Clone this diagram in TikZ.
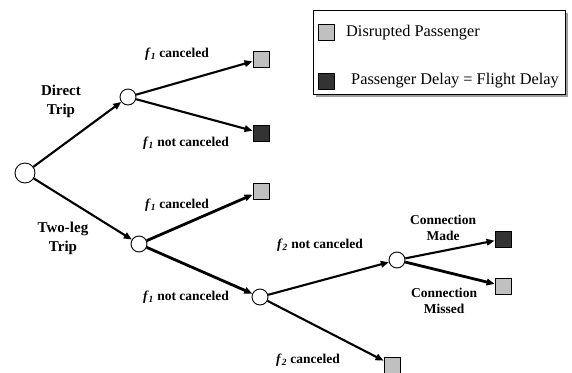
\documentclass[tikz,border=0pt]{standalone}
\usepackage{fontspec}
\setmainfont{Liberation Serif}
\usetikzlibrary{arrows.meta}
\definecolor{lgray}{RGB}{192,192,192}
\definecolor{dgray}{RGB}{51,51,51}
\newcommand{\fsub}[1]{\textit{f}\textsubscript{\textit{#1}}}
\tikzset{
  chance/.style={circle,draw=black,line width=0.9pt,fill=white,minimum size=16pt,inner sep=0pt},
  rootnode/.style={chance,minimum size=20pt},
  endbox/.style={rectangle,draw=black,line width=0.9pt,minimum size=16pt,inner sep=0pt},
  graybox/.style={endbox,fill=lgray},
  darkbox/.style={endbox,fill=dgray},
  arr/.style={line width=2.1pt,-{Triangle[length=8pt,width=6.5pt]}},
  thickarr/.style={arr,line width=2.8pt},
  lab/.style={font=\bfseries\fontsize{13.5}{15}\selectfont,inner sep=0pt,align=center},
  biglab/.style={font=\bfseries\fontsize{15}{19}\selectfont,inner sep=0pt,align=center},
  legtext/.style={font=\fontsize{16.3}{18}\selectfont,inner sep=0pt,anchor=west}
}
\begin{document}
\begin{tikzpicture}[x=1pt,y=-1pt]
\useasboundingbox (0,0) rectangle (572,372);
% legend
\fill[gray!75] (316,13) rectangle (568,97);
\draw[fill=white,line width=0.8pt] (313,10) rectangle (565,94);
\node[graybox] (lg1) at (326,32) {};
\node[darkbox] (lg2) at (326,81) {};
\node[legtext] (lt1) at (346,33) {Disrupted Passenger};
\node[legtext] (lt2) at (351,81) {Passenger Delay = Flight Delay};
% nodes
\node[rootnode] (root) at (25,173) {};
\node[chance] (dt) at (128,97) {};
\node[graybox] (sq1) at (261,59) {};
\node[darkbox] (sq2) at (261,133) {};
\node[chance] (tl) at (139,244) {};
\node[graybox] (sq3) at (261,191) {};
\node[chance] (n3) at (260,297) {};
\node[chance] (cn) at (397,260) {};
\node[darkbox] (sq4) at (503,239) {};
\node[graybox] (sq5) at (503,286) {};
\node[graybox] (sq6) at (392,365) {};
% connectors
\draw[arr] (root) -- (dt);
\draw[arr] (dt) -- (sq1);
\draw[arr] (dt) -- (sq2);
\draw[arr] (root) -- (tl);
\draw[thickarr] (tl) -- (sq3);
\draw[thickarr] (tl) -- (n3);
\draw[arr] (n3) -- (cn);
\draw[arr] (n3) -- (sq6);
\draw[arr] (cn) -- (sq4);
\draw[thickarr] (cn) -- (sq5);
% labels
\node[lab] (l1) at (177,54) {\fsub{1} canceled};
\node[lab] (l2) at (186,143) {\fsub{1} not canceled};
\node[biglab] (l3) at (61,101) {Direct\\Trip};
\node[lab] (l4) at (177,205) {\fsub{1} canceled};
\node[biglab] (l5) at (63,238) {Two-leg\\Trip};
\node[lab] (l6) at (186,297) {\fsub{1} not canceled};
\node[lab] (l7) at (320,245) {\fsub{2} not canceled};
\node[lab,font=\bfseries\fontsize{13.5}{16}\selectfont] (l8) at (443,228) {Connection\\Made};
\node[lab,font=\bfseries\fontsize{13.5}{16}\selectfont] (l9) at (444,301) {Connection\\Missed};
\node[lab] (l10) at (308,360) {\fsub{2} canceled};
\end{tikzpicture}
\end{document}
